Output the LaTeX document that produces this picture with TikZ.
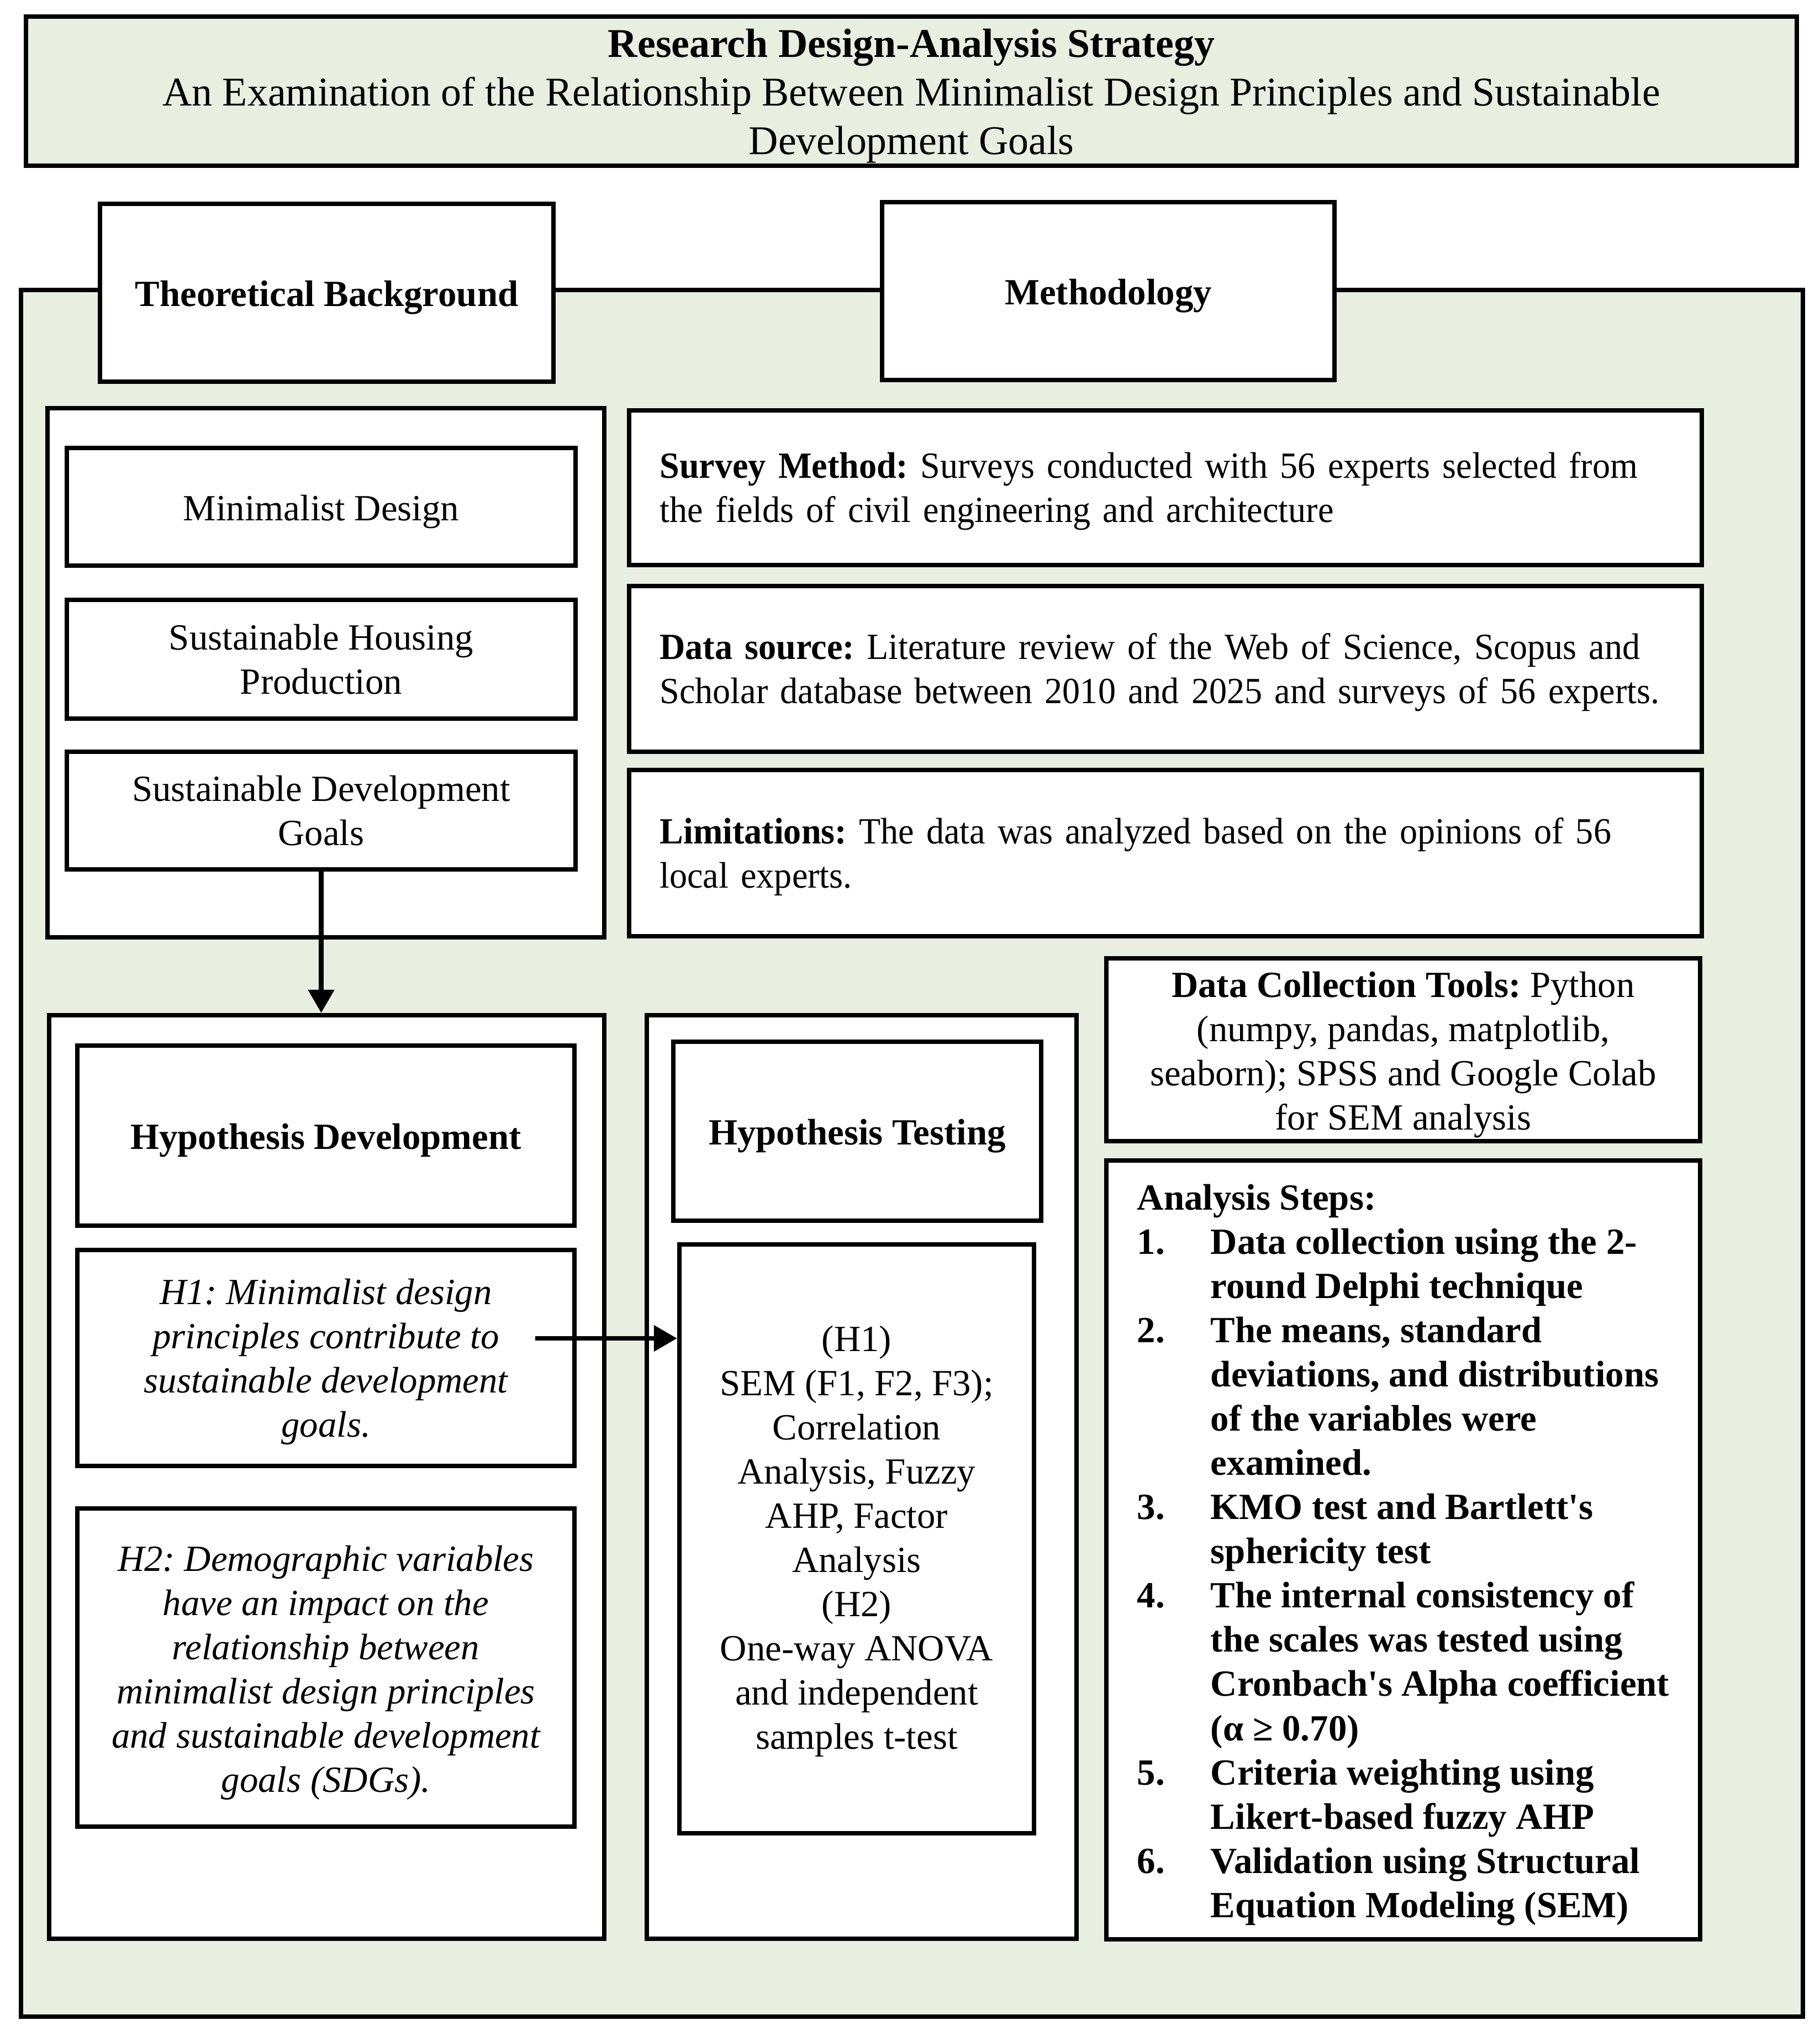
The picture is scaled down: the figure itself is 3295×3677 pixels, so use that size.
\documentclass[tikz,border=0pt]{standalone}
\usepackage{fontspec}
\setmainfont{Liberation Serif}
\newfontfamily\condfont{Liberation Serif}[FakeStretch=0.96]
\usetikzlibrary{arrows.meta}
\definecolor{panelgreen}{RGB}{232,238,224}
\newcommand\bsz{\fontsize{19pt}{22.76pt}\selectfont}
\newcommand\tsz{\fontsize{21pt}{25pt}\selectfont}
\newcommand\lift[1]{\rule{0pt}{#1}}
\newcommand\mkbox[7]{\node[#6, minimum width={(#4-#2)*0.01cm}, minimum height={(#5-#3)*0.01cm}] (#1) at ({(#2+#4)/2},{(#3+#5)/2}) {#7};}
\frenchspacing
\begin{document}
\begin{tikzpicture}[x=0.01cm, y=-0.01cm,
  box/.style={draw, line width=2.4pt, fill=white, inner sep=0pt, align=center, font=\bsz},
  panel/.style={draw, line width=2.4pt, fill=panelgreen, inner sep=0pt},
  leftbox/.style={box, align=left, text width=18.3cm, font=\bsz\condfont},
  oneline/.style={text height=18.3pt},
  arr/.style={line width=2.4pt, -{Triangle[length=0.42cm, width=0.46cm]}}]
\useasboundingbox (0,0) rectangle (3295,3677);
\fill[white] (0,0) rectangle (3295,3677);
% title
\mkbox{title}{47}{30}{3253}{300}{panel, align=center, font=\tsz}{\lift{19.7pt}\textbf{Research Design-Analysis Strategy}\\An Examination of the Relationship Between Minimalist Design Principles and Sustainable\\Development Goals}
% main frame
\mkbox{frame}{38}{525}{3264}{3651}{panel}{}
% headers
\mkbox{tb}{181}{369}{1002}{691}{box, oneline, font=\bsz\bfseries}{Theoretical Background}
\mkbox{meth}{1597}{366}{2416}{688}{box, oneline, font=\bsz\bfseries}{Methodology}
% theoretical group
\mkbox{tbg}{86}{739}{1094}{1697}{box}{}
\mkbox{md}{121}{811}{1042}{1024}{box, oneline}{Minimalist Design}
\mkbox{shp}{121}{1086}{1042}{1301}{box}{Sustainable Housing\\Production}
\mkbox{sdg}{121}{1361}{1042}{1574}{box}{Sustainable Development\\Goals}
% hypothesis development
\mkbox{hdg}{89}{1838}{1094}{3510}{box}{}
\mkbox{hdh}{140}{1893}{1040}{2219}{box, oneline, font=\bsz\bfseries}{Hypothesis Development}
\mkbox{hone}{140}{2263}{1040}{2654}{box, font=\bsz\itshape}{\lift{16.9pt}H1: Minimalist design\\principles contribute to\\sustainable development\\goals.}
\mkbox{htwo}{140}{2731}{1040}{3307}{box, font=\bsz\itshape}{\lift{18.3pt}H2: Demographic variables\\have an impact on the\\relationship between\\minimalist design principles\\and sustainable development\\goals (SDGs).}
% hypothesis testing
\mkbox{htg}{1171}{1838}{1949}{3510}{box}{}
\mkbox{hth}{1219}{1886}{1885}{2210}{box, oneline, font=\bsz\bfseries}{Hypothesis Testing}
\mkbox{htm}{1230}{2253}{1872}{3319}{box}{\lift{15.7pt}(H1)\\SEM (F1, F2, F3);\\Correlation\\Analysis, Fuzzy\\AHP, Factor\\Analysis\\(H2)\\One-way ANOVA\\and independent\\samples t-test}
% methodology boxes
\mkbox{survey}{1139}{743}{3081}{1023}{leftbox}{\lift{16.9pt}\textbf{Survey Method:} Surveys conducted with 56 experts selected from\\the fields of civil engineering and architecture}
\mkbox{dsrc}{1139}{1061}{3081}{1361}{leftbox}{\lift{16.9pt}\textbf{Data source:} Literature review of the Web of Science, Scopus and\\Scholar database between 2010 and 2025 and surveys of 56 experts.}
\mkbox{lim}{1139}{1394}{3081}{1695}{leftbox}{\lift{16.9pt}\textbf{Limitations:} The data was analyzed based on the opinions of 56\\local experts.}
\mkbox{dct}{2003}{1735}{3078}{2066}{box}{\lift{18.3pt}\textbf{Data Collection Tools:} Python\\(numpy, pandas, matplotlib,\\seaborn); SPSS and Google Colab\\for SEM analysis}
\mkbox{steps}{2003}{2101}{3078}{3511}{box, align=left, font=\bsz\bfseries}{\lift{18.3pt}Analysis Steps:\\
\makebox[1.33cm][l]{1.}Data collection using the 2-\\
\hspace*{1.33cm}round Delphi technique\\
\makebox[1.33cm][l]{2.}The means, standard\\
\hspace*{1.33cm}deviations, and distributions\\
\hspace*{1.33cm}of the variables were\\
\hspace*{1.33cm}examined.\\
\makebox[1.33cm][l]{3.}KMO test and Bartlett\textquotesingle s\\
\hspace*{1.33cm}sphericity test\\
\makebox[1.33cm][l]{4.}The internal consistency of\\
\hspace*{1.33cm}the scales was tested using\\
\hspace*{1.33cm}Cronbach\textquotesingle s Alpha coefficient\\
\hspace*{1.33cm}(α ≥ 0.70)\\
\makebox[1.33cm][l]{5.}Criteria weighting using\\
\hspace*{1.33cm}Likert-based fuzzy AHP\\
\makebox[1.33cm][l]{6.}Validation using Structural\\
\hspace*{1.33cm}Equation Modeling (SEM)}
% arrows
\draw[arr] (sdg.south) -- (sdg.south |- hdg.north);
\coordinate (hones) at (969,2423);
\draw[arr] (hones) -- (hones -| htm.west);
\end{tikzpicture}
\end{document}
